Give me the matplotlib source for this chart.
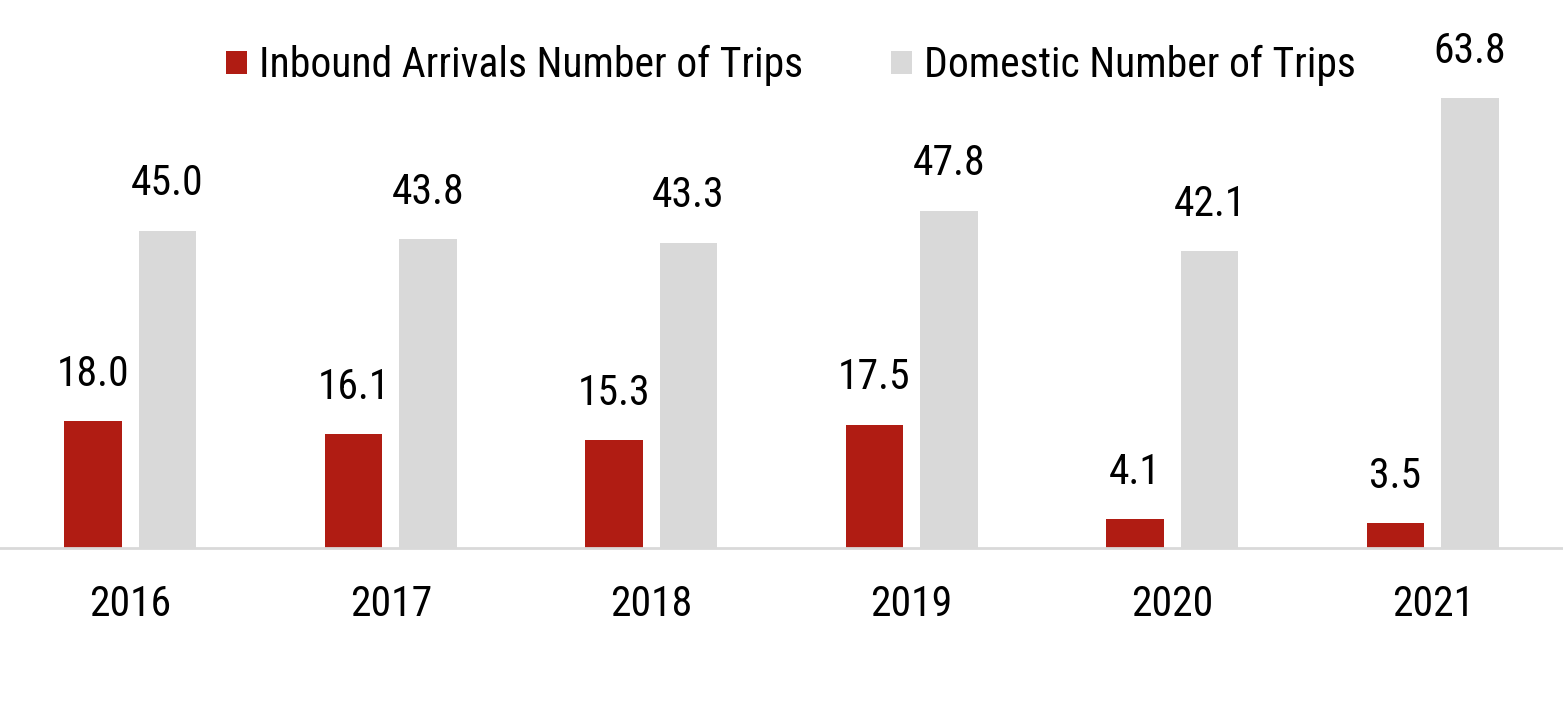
import matplotlib
matplotlib.use("Agg")
import matplotlib.pyplot as plt
import numpy as np

plt.rcParams['font.family'] = ['Liberation Sans Narrow', 'Roboto Condensed', 'Arial Narrow',
                               'DejaVu Sans Condensed', 'DejaVu Sans']

years = ['2016', '2017', '2018', '2019', '2020', '2021']
inbound = [18.0, 16.1, 15.3, 17.5, 4.1, 3.5]
domestic = [45.0, 43.8, 43.3, 47.8, 42.1, 63.8]

red = '#B01C13'
gray = '#D9D9D9'

fig = plt.figure(figsize=(15.63, 7.22), dpi=100)
ax = fig.add_axes([0.0, 0.241, 1.0, 0.759])

x = np.arange(len(years))
w = 0.222
off = 0.143
b1 = ax.bar(x - off, inbound, w, color=red, label='Inbound Arrivals Number of Trips')
b2 = ax.bar(x + off, domestic, w, color=gray, label='Domestic Number of Trips')

for bars, vals in [(b1, inbound), (b2, domestic)]:
    for r, v in zip(bars, vals):
        ax.annotate(f'{v:.1f}', (r.get_x() + r.get_width() / 2, v),
                    xytext=(0, 19), textcoords='offset points',
                    ha='center', va='bottom', fontsize=30)

ax.set_xlim(-0.5, 5.5)
ax.set_ylim(0, 77.7)
ax.set_xticks(x)
ax.set_xticklabels(years, fontsize=30)
ax.tick_params(axis='x', length=0, pad=26)
ax.set_yticks([])
for s in ['top', 'right', 'left']:
    ax.spines[s].set_visible(False)
ax.spines['bottom'].set_color(gray)
ax.spines['bottom'].set_linewidth(2)

fig.legend(loc='center', bbox_to_anchor=(0.506, 0.909), ncol=2, frameon=False,
           fontsize=30, handlelength=0.5, handleheight=0.5, handletextpad=0.3,
           columnspacing=2.1)

fig.savefig('out.png', dpi=100)
